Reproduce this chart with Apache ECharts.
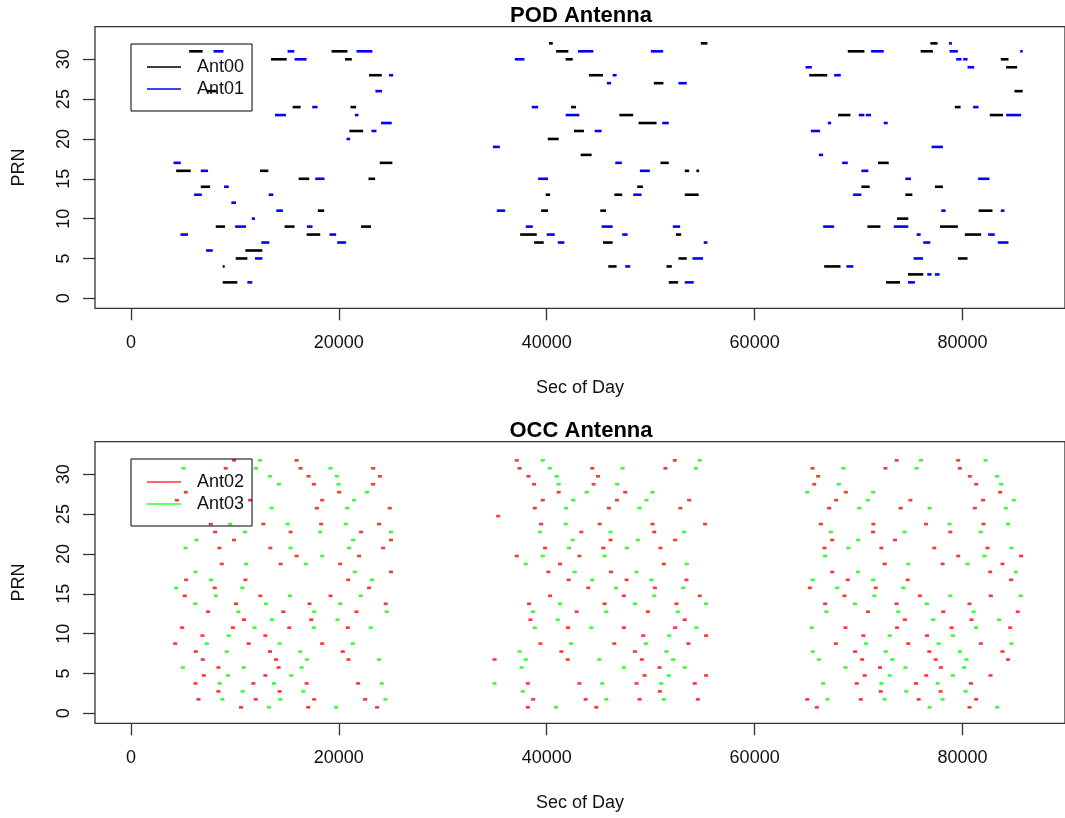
<!DOCTYPE html>
<html><head><meta charset="utf-8">
<script src="https://cdn.jsdelivr.net/npm/echarts@6/dist/echarts.min.js"></script>
<style>html,body{margin:0;padding:0;background:#fff}#c{width:1065px;height:818px}</style>
</head><body><div id="c"></div>
<script>
// ---------- data ----------
const xTicks = [0, 20000, 40000, 60000, 80000];
const yTicks = [0, 5, 10, 15, 20, 25, 30];
const titles = ['POD Antenna', 'OCC Antenna'];
const xTitle = 'Sec of Day';
const yTitle = 'PRN';

// POD antenna tracking arcs: [start sec, end sec, PRN]
const ant00 = [
[5600,6900,31],[19300,20830,31],[13470,14980,30],[20600,21250,30],[22900,24130,28],[7300,8260,26],[15550,16320,24],[21120,21660,24],
[21020,22340,21],[23940,25150,17],[4350,5760,16],[12420,13220,16],[16130,17150,15],[22850,23490,15],[6720,7620,14],[17980,18590,11],
[8160,9060,9],[14780,15740,9],[22140,23100,9],[16900,18210,8],[11010,12640,6],[10080,11200,5],[8830,9020,4],[8830,10240,2],
[40220,40580,32],[54820,55460,32],[40900,42080,31],[41820,42500,30],[44060,45410,28],[50300,51230,27],[42340,42820,24],[46990,48320,23],
[48830,50560,22],[42620,43580,21],[40100,41150,20],[43260,44320,18],[50940,51740,17],[53280,53700,16],[54400,54660,16],[48700,49250,14],
[39900,40320,13],[46500,47260,13],[53280,54620,13],[39460,40130,11],[45150,45700,11],[37440,39040,8],[52420,52930,8],[38780,39710,7],
[45410,46340,7],[52670,53470,5],[45920,46720,4],[51520,52030,4],[51740,52640,2],
[76900,77600,32],[68960,70560,31],[75970,77150,31],[83680,84420,30],[84190,85250,29],[65250,66980,28],[84990,85790,26],[79260,79810,24],
[68030,69220,23],[82620,83900,23],[71870,72900,17],[70270,71070,14],[77340,78110,14],[74500,75170,13],[81540,82880,11],[73700,74780,10],
[70850,72100,9],[77820,79550,9],[80220,81790,8],[79550,80480,5],[66690,68260,4],[74750,76220,3],[72640,73980,2]
];
const ant01 = [
[7940,8900,31],[15070,15710,31],[21700,23230,31],[15740,16900,30],[24830,25220,28],[23520,24160,26],[17440,17950,24],[13860,14910,23],
[21540,21890,23],[24060,25090,22],[23140,23620,21],[20740,21090,20],[4100,4800,17],[6720,7420,16],[17730,18620,15],[8960,9410,14],
[6080,6820,13],[13250,13700,13],[9660,10110,12],[13980,14620,11],[11620,11940,10],[10020,11070,9],[16930,17470,9],[4770,5500,8],
[19100,19740,8],[12540,13310,7],[19840,20700,7],[7230,7870,6],[11940,12640,5],[11200,11680,2],
[43010,44480,31],[50020,51200,31],[36930,37860,30],[46340,46720,28],[45790,46180,27],[52670,53470,27],[38560,39170,24],[41820,43140,23],
[51100,51740,22],[44610,45280,21],[34820,35490,19],[46590,47230,17],[48960,49920,16],[39170,40130,15],[48320,49120,13],[35200,36000,11],
[37980,38660,9],[45280,46340,9],[52130,52830,9],[40000,40770,8],[47260,47780,8],[41060,41700,7],[55100,55460,7],[54020,55040,5],
[47550,48030,4],[53280,54140,2],
[78690,78980,32],[71200,72420,31],[78750,79550,31],[85540,85790,31],[79390,79900,30],[80060,80480,30],[64900,65500,29],[80480,81120,29],
[67650,68290,28],[81020,81540,24],[70020,70560,23],[70690,71200,23],[84190,85630,23],[67040,67360,22],[72420,72800,22],[65410,66300,21],
[77020,78110,19],[66180,66590,18],[68420,68960,17],[70270,70940,16],[74500,75040,15],[81500,82590,15],[69470,70270,13],[77950,78370,11],
[83680,84030,11],[66590,67650,9],[73380,74780,9],[75580,75970,8],[82460,83100,8],[76220,76900,7],[83390,84420,7],[75300,76190,5],
[68830,69500,4],[76610,77020,3],[77340,77790,3],[74750,75420,2]
];

// OCC antenna events: [sec, PRN]
const ant02 = [
[9920,32],[15940,32],[9120,31],[16320,31],[23300,31],[17090,30],[23940,30],[17600,29],[23300,29],[5280,28],[20030,28],
[4420,27],[11460,27],[18400,27],[17890,26],[24900,26],[7680,24],[12740,24],[18300,24],[23870,24],[8100,23],[15360,23],[22140,23],
[9920,22],[25020,22],[8510,21],[13410,21],[24260,21],[15940,20],[21950,20],[8740,19],[14400,19],[20130,19],[25020,18],
[5310,17],[11010,17],[20900,17],[8060,16],[22910,16],[5180,15],[12450,15],[19200,15],[10110,14],[17180,14],[24510,14],
[7420,13],[14660,13],[21700,13],[10880,12],[17340,12],[4930,11],[9820,11],[15230,11],[20860,11],[6880,10],[12930,10],
[4260,9],[11330,9],[18400,9],[6240,8],[13380,8],[20380,8],[6910,7],[13950,7],[20930,7],[8420,6],[14210,6],[7010,5],[12930,5],
[6210,4],[11780,4],[16900,4],[21860,4],[8420,3],[14300,3],[6500,2],[12000,2],[17630,2],[22530,2],[10590,1],[17060,1],[23680,1],
[37120,32],[52320,32],[37380,31],[44380,31],[51420,31],[38240,30],[44930,30],[38780,29],[44510,29],[41150,28],[47550,28],
[39620,27],[46750,27],[53700,27],[38850,26],[45980,26],[52860,26],[35330,25],[39460,24],[45090,24],[50180,24],[55230,24],
[43330,23],[50340,23],[46140,22],[52350,22],[39840,21],[45440,21],[50940,21],[37120,20],[43140,20],[41280,19],[51260,19],
[40160,18],[46180,18],[42110,17],[47680,17],[53440,17],[44000,16],[50400,16],[40320,15],[47420,15],[54720,15],
[38300,14],[45570,14],[52480,14],[42880,13],[49730,13],[38430,12],[53280,12],[42050,11],[47420,11],[52350,11],
[49280,10],[55330,10],[39390,9],[46500,9],[53630,9],[41410,8],[48480,8],[34980,7],[42020,7],[49150,7],[50850,6],
[49410,5],[55330,5],[38180,4],[43140,4],[48640,4],[54240,4],[50880,3],[38690,2],[43740,2],[48930,2],[54530,2],[38180,1],[44770,1],
[73660,32],[79580,32],[65570,31],[72580,31],[79740,31],[66110,30],[80700,30],[65730,29],[81310,29],[68770,28],[83620,28],
[67840,27],[74980,27],[81980,27],[67170,26],[74050,26],[81180,26],[66370,24],[71420,24],[76480,24],[82020,24],[71390,23],[78820,23],
[67460,22],[73500,22],[66720,21],[72190,21],[77280,21],[82400,21],[79580,20],[85630,20],[72510,19],[78080,19],[83840,19],
[67460,18],[82660,18],[68960,17],[74720,17],[84670,17],[65310,16],[71650,16],[68640,15],[75900,15],[82720,15],
[66780,14],[73660,14],[80670,14],[70910,13],[78140,13],[85310,13],[74460,12],[80860,12],[68740,11],[73700,11],[78940,11],[84580,11],
[70460,10],[76580,10],[67810,9],[74780,9],[81760,9],[69660,8],[76800,8],[83840,8],[70340,7],[77410,7],[84380,7],[72060,6],[77920,6],
[70590,5],[76510,5],[82690,5],[69820,4],[75520,4],[80800,4],[72130,3],[77890,3],[65060,2],[70210,2],[75780,2],[81310,2],[65980,1],[80670,1]
];
const ant03 = [
[12420,32],[5060,31],[12030,31],[19200,31],[13380,30],[19810,30],[14240,29],[19970,29],[22720,28],[21470,27],[13540,26],[20800,26],
[9540,24],[15070,24],[20670,24],[10980,23],[18210,23],[25020,23],[6300,22],[21380,22],[5250,21],[15360,21],[20990,21],[18400,20],
[11070,19],[16830,19],[6210,18],[21540,18],[7710,17],[23200,17],[4350,16],[10720,16],[8160,15],[15300,15],[22110,15],
[6180,14],[12990,14],[20130,14],[10340,13],[17630,13],[24610,13],[13570,12],[19870,12],[11900,11],[17600,11],[23070,11],[9410,10],
[7300,9],[14300,9],[21340,9],[9220,8],[16290,8],[16930,7],[23870,7],[4990,6],[10850,6],[16420,6],[9340,5],[15420,5],
[8540,4],[13760,4],[24130,4],[10750,3],[16580,3],[8800,2],[14370,2],[24480,2],[13280,1],[19740,1],
[39620,32],[54720,32],[40290,31],[47300,31],[54340,31],[40960,30],[41150,29],[46780,29],[43840,28],[50180,28],[42560,27],[49600,27],
[41860,26],[48930,26],[41820,24],[39360,23],[46140,23],[53220,23],[42500,22],[48770,22],[42140,21],[47710,21],[39620,20],[45570,20],
[37980,19],[53470,19],[42690,18],[48640,18],[44380,17],[50080,17],[46660,16],[53120,16],[50340,15],[41280,14],[48480,14],[55330,14],
[38690,13],[45730,13],[52610,13],[41060,12],[38850,11],[44290,11],[54400,11],[51780,10],[42340,9],[49540,9],[37380,8],[51520,8],
[37980,7],[45060,7],[52160,7],[37570,6],[47420,6],[53280,6],[51740,5],[34980,4],[45340,4],[51010,4],[37700,3],[45730,2],[51260,2],[40900,1],
[76000,32],[82210,32],[68540,31],[75580,31],[83330,30],[68100,29],[83710,29],[65060,28],[71390,28],[70880,27],[84930,27],
[70080,26],[76830,26],[84160,26],[78750,24],[84380,24],[67330,23],[74430,23],[81760,23],[69950,22],[69020,21],[84700,21],
[66780,20],[82110,20],[74780,19],[80480,19],[69950,18],[85120,18],[65600,17],[71390,17],[67940,16],[74300,16],
[71520,15],[78820,15],[85600,15],[69660,14],[76580,14],[66910,13],[73820,13],[81060,13],[77180,12],[83520,12],[65500,11],[81310,11],
[72990,10],[79070,10],[70720,9],[77700,9],[84700,9],[65600,8],[72610,8],[79740,8],[66180,7],[73250,7],[80380,7],
[68740,6],[74500,6],[80160,6],[72990,5],[79070,5],[66590,4],[72190,4],[77600,4],[74590,3],[80290,3],[67010,2],[72510,2],[78080,2],
[76830,1],[83330,1]
];

// ---------- chart ----------
const FONT = '"Liberation Sans", Arial, sans-serif';
const TXT = '#111';
const grids = [
  {left:95, top:26.7, width:973, height:281.6},
  {left:95, top:441.7, width:973, height:281.6}
].map(g => Object.assign(g, {show:true, borderColor:'#333', borderWidth:1.3, backgroundColor:'transparent'}));

function mkX(gi){
  return {gridIndex:gi, type:'value', min:-3456, max:89856,
    axisLine:{show:false, onZero:false}, splitLine:{show:false},
    axisTick:{show:true, customValues:xTicks, length:12, lineStyle:{color:'#333', width:1.3}},
    axisLabel:{customValues:xTicks, margin:26, fontSize:18, color:TXT, fontFamily:FONT, formatter:v=>String(v)},
    name:xTitle, nameLocation:'middle', nameGap:71,
    nameTextStyle:{fontSize:18, color:TXT, fontFamily:FONT}};
}
function mkY(gi){
  return {gridIndex:gi, type:'value', min:-1.255, max:34.09,
    axisLine:{show:false, onZero:false}, splitLine:{show:false},
    axisTick:{show:true, customValues:yTicks, length:12, lineStyle:{color:'#333', width:1.3}},
    axisLabel:{customValues:yTicks, rotate:90, margin:22, fontSize:18, color:TXT, fontFamily:FONT, formatter:v=>String(v)},
    name:yTitle, nameLocation:'middle', nameRotate:90, nameGap:67,
    nameTextStyle:{fontSize:18, color:TXT, fontFamily:FONT}};
}
function segSeries(name, data, color){
  return {name, type:'custom', xAxisIndex:0, yAxisIndex:0, data, color, itemStyle:{color},
    encode:{x:[0,1], y:2},
    renderItem:(p, api) => {
      const a = api.coord([api.value(0), api.value(2)]);
      const b = api.coord([api.value(1), api.value(2)]);
      return {type:'line', shape:{x1:a[0], y1:a[1], x2:b[0], y2:b[1]},
        style:{stroke:color, lineWidth:2.6}};
    }};
}
function occSeries(name, data, color){
  return {name, type:'scatter', xAxisIndex:1, yAxisIndex:1, data, color,
    symbol:'rect', symbolSize:[4,2.6], symbolOffset:[0,2],
    itemStyle:{color}, emphasis:{disabled:true}};
}
function mkLegend(top, names){
  return {orient:'vertical', left:131, top, padding:[14,8,13,16], itemGap:4,
    itemWidth:34, itemHeight:1.5, icon:'rect', borderColor:'#000', borderWidth:1,
    data:names, selectedMode:false,
    textStyle:{fontSize:18, lineHeight:18, color:TXT, fontFamily:FONT, padding:[0,0,0,11]}};
}

const chart = echarts.init(document.getElementById('c'), null, {renderer:'canvas'});
chart.setOption({
  animation:false,
  backgroundColor:'#fff',
  grid:grids,
  xAxis:[mkX(0), mkX(1)],
  yAxis:[mkY(0), mkY(1)],
  legend:[mkLegend(44, ['Ant00','Ant01']), mkLegend(459, ['Ant02','Ant03'])],
  graphic:[
    {type:'text', x:581, y:16, style:{text:titles[0], align:'center', verticalAlign:'middle', font:'bold 22px "Liberation Sans", Arial', fill:'#000'}},
    {type:'text', x:581, y:431, style:{text:titles[1], align:'center', verticalAlign:'middle', font:'bold 22px "Liberation Sans", Arial', fill:'#000'}}
  ],
  series:[
    segSeries('Ant00', ant00, '#000000'),
    segSeries('Ant01', ant01, '#0000FF'),
    occSeries('Ant02', ant02, '#FF0000'),
    occSeries('Ant03', ant03, '#00FF00')
  ]
});
</script></body></html>
